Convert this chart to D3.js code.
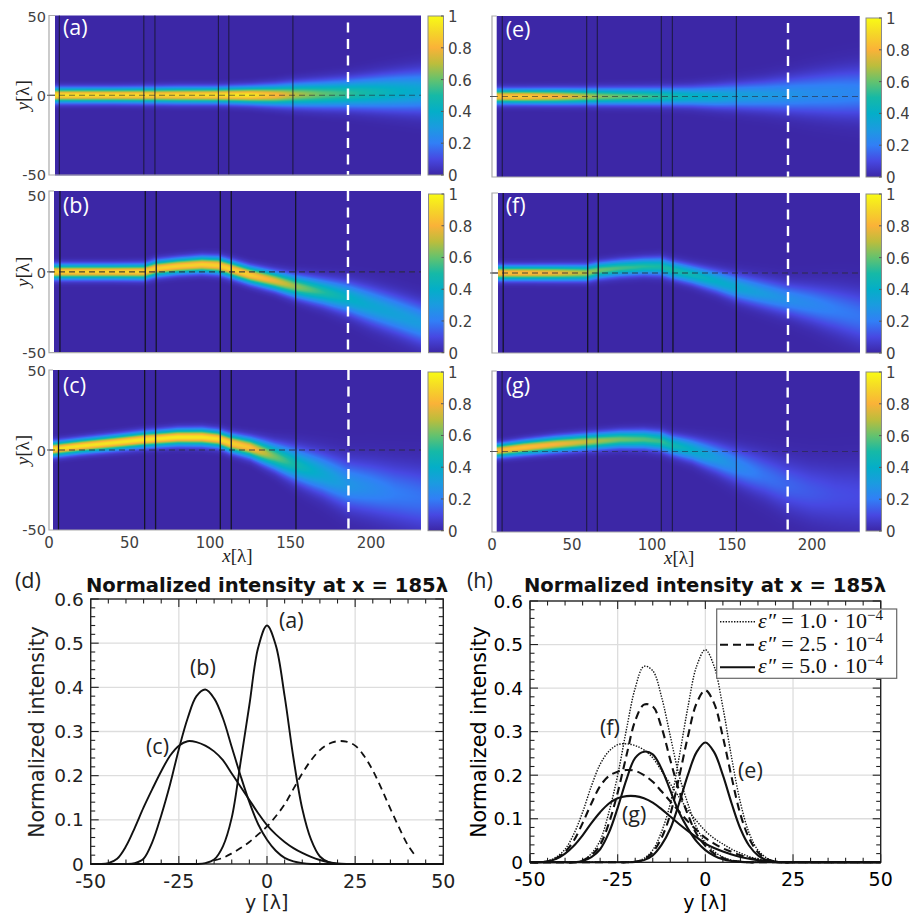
<!DOCTYPE html>
<html>
<head>
<meta charset="utf-8">
<script src="https://cdnjs.cloudflare.com/ajax/libs/d3/7.8.5/d3.min.js"></script>
<style>
html, body { margin: 0; padding: 0; background: #fff; }
svg { display: block; }
</style>
</head>
<body>
<script>
// global variables
var svg_w = 909;
var svg_h = 919;
var sans = "'DejaVu Sans', sans-serif";
var serif = "'Liberation Serif', serif";
var label_font = "'Open Sans', sans-serif";

// colour map
var cmap_levels = [0, .1, .2, .3, .4, .5, .6, .7, .8, .9, 1];
var cmap_colors = ["#3c27a6", "#4748e2", "#317ff6", "#1b9be0", "#04aec8", "#16b9a6", "#64c26e", "#bcbd3c", "#fab238", "#f5d628", "#f9fb15"];

// x stations (in lambda) where the beam was read in each map
var stations = [3, 20, 40, 59, 66, 80, 95, 105, 112, 125, 140, 153, 170, 185, 200, 215, 232];

// beam centre, peak and width at the stations
var center_a = [0, 0, 0, 0, 0, 0, 0, 0, 0, 0, 0, .3, .6, 1, 1.5, 2, 2.5];
var peak_a = [.94, .94, .93, .92, .91, .92, .93, .94, .95, .96, .84, .7, .6, .54, .48, .42, .36];
var width_a = [2.8, 2.8, 2.8, 2.9, 2.9, 3, 3, 3, 3.1, 3.3, 3.8, 4.4, 5, 5.5, 6.3, 7.2, 8.2];

var center_b = [0, 0, 0, 0, 2, 3.5, 4.5, 4, 2, -2, -5.5, -9, -12.5, -16, -21, -26, -32];
var peak_b = [.9, .9, .9, .9, .89, .89, .89, .89, .9, .88, .78, .66, .52, .42, .36, .33, .3];
var width_b = [2.8, 2.8, 2.8, 2.9, 3, 3, 3.1, 3.2, 3.2, 3.3, 3.6, 4.2, 5, 6, 7, 7.5, 8];

var center_c = [.5, 2.5, 4.5, 6.5, 7, 8, 8, 7, 4.5, 1.5, -4, -9, -15, -21.5, -24, -27, -30];
var peak_c = [.94, .94, .94, .95, .95, .96, .95, .93, .9, .85, .62, .48, .36, .28, .24, .2, .18];
var width_c = [2.8, 2.8, 2.9, 3, 3, 3.1, 3.2, 3.2, 3.4, 3.8, 5, 6.5, 8, 9.5, 10.5, 11.5, 12.5];

var center_e = [0, 0, 0, 0, 0, 0, 0, 0, 0, 0, 0, .3, .6, 1, 1.5, 2, 2.5];
var peak_e = [.85, .88, .82, .7, .65, .6, .56, .52, .48, .42, .38, .33, .3, .275, .25, .24, .22];
var width_e = [2.8, 2.8, 2.9, 3, 3.1, 3.2, 3.3, 3.4, 3.5, 3.8, 4.4, 5, 5.8, 6.8, 8, 9, 10];

var center_f = [0, 0, 0, 0, 1.5, 3, 4, 4, 2, -1, -5, -9, -13, -16.5, -19.5, -23, -27.5];
var peak_f = [.85, .85, .8, .7, .62, .56, .52, .5, .5, .46, .4, .36, .3, .255, .23, .2, .18];
var width_f = [2.8, 2.8, 2.9, 3, 3.1, 3.2, 3.3, 3.5, 3.5, 3.7, 4.3, 5, 5.7, 6.3, 7.5, 9, 10.5];

var center_g = [.5, 2.5, 4.5, 6, 6.5, 7.5, 7.5, 6.5, 4, 1, -4, -9, -15, -21, -25, -27, -28];
var peak_g = [.85, .85, .8, .72, .68, .62, .58, .55, .48, .4, .3, .24, .18, .152, .13, .11, .1];
var width_g = [2.6, 2.8, 3, 3.1, 3.2, 3.3, 3.5, 3.7, 3.9, 4.5, 5.8, 7, 8.5, 10, 11, 12, 13];

// cross section of the beam: distance from centre (in widths) and relative intensity
var profile_d = [0, .25, .5, .75, 1, 1.25, 1.5, 1.75, 2, 2.25, 2.5, 3, 3.5];
var profile_i = [1, .97, .88, .755, .607, .458, .325, .216, .135, .08, .044, .011, 0];

// black vertical lines and white dashed cut, in lambda, per map
var walls_a = [6.4, 58.9, 65.8, 105.2, 111.7, 151.5];
var walls_b = [6.8, 59.8, 66.6, 106.4, 113.2, 153.2];
var walls_c = [5.9, 59.4, 66.2, 106.4, 113.2, 153.4];
var walls_e = [6.4, 59.2, 65.8, 105.8, 112.7, 152.7];
var walls_f = [7, 59.8, 66.4, 106.4, 113.1, 152.7];
var walls_g = [6.3, 59.2, 65.8, 105.8, 112.7, 152.7];
var cuts = { a: 185.7, b: 185.7, c: 186, e: 185, f: 185, g: 184.8 };

var map_ticks_x = [0, 50, 100, 150, 200];
var map_ticks_y = [-50, 0, 50];
var bar_ticks = [0, .2, .4, .6, .8, 1];

// profiles at x = 185 lambda, one value per entry of y_grid
var y_grid = [-50, -47.5, -45, -42.5, -40, -37.5, -35, -32.5, -30, -27.5, -25, -22.5, -20, -17.5, -15, -12.5, -10, -7.5, -5, -2.5, 0,
	2.5, 5, 7.5, 10, 12.5, 15, 17.5, 20, 22.5, 25, 27.5, 30, 32.5, 35, 37.5, 40, 42.5, 45, 47.5, 50];

var curve_a = [0, 0, 0, 0, 0, 0, 0, 0, 0, 0, 0, 0, 0, .002, .01, .04, .105, .23, .36, .49, .54,
	.495, .38, .24, .125, .055, .017, .004, 0, 0, 0, 0, 0, 0, 0, 0, 0, 0, 0, 0, 0];
var curve_b = [0, 0, 0, 0, 0, .002, .012, .05, .11, .18, .26, .33, .38, .395, .375, .33, .265, .2, .14, .09, .055,
	.03, .014, .006, .002, 0, 0, 0, 0, 0, 0, 0, 0, 0, 0, 0, 0, 0, 0, 0, 0];
var curve_c = [0, 0, .002, .012, .04, .082, .128, .17, .21, .245, .268, .278, .276, .268, .255, .235, .205, .175, .145, .115, .088,
	.067, .05, .036, .025, .016, .009, .004, .001, 0, 0, 0, 0, 0, 0, 0, 0, 0, 0, 0, 0];
var curve_mirror = [null, null, null, null, null, null, null, null, null, null, null, null, null, null, .008, .014, .024, .036, .05, .067, .085,
	.108, .135, .17, .205, .235, .258, .272, .278, .277, .268, .245, .212, .17, .125, .082, .042, .014, null, null, null];

var curve_e1 = [0, 0, 0, 0, 0, 0, 0, 0, 0, 0, 0, 0, .001, .009, .028, .07, .135, .24, .355, .45, .488,
	.45, .356, .24, .137, .067, .028, .01, .002, 0, 0, 0, 0, 0, 0, 0, 0, 0, 0, 0, 0];
var curve_e2 = [0, 0, 0, 0, 0, 0, 0, 0, 0, 0, 0, 0, .001, .007, .023, .056, .11, .195, .288, .365, .395,
	.365, .288, .195, .11, .055, .023, .008, .002, 0, 0, 0, 0, 0, 0, 0, 0, 0, 0, 0, 0];
var curve_e3 = [0, 0, 0, 0, 0, 0, 0, 0, 0, 0, 0, 0, .001, .005, .016, .04, .077, .135, .2, .253, .275,
	.253, .2, .135, .077, .038, .016, .005, .001, 0, 0, 0, 0, 0, 0, 0, 0, 0, 0, 0, 0];

var curve_f1 = [0, 0, 0, 0, 0, 0, .004, .02, .05, .115, .2, .305, .4, .45, .44, .38, .29, .2, .135, .08, .045,
	.025, .012, .005, .002, 0, 0, 0, 0, 0, 0, 0, 0, 0, 0, 0, 0, 0, 0, 0, 0];
var curve_f2 = [0, 0, 0, 0, 0, 0, .004, .016, .04, .09, .16, .245, .325, .362, .358, .31, .235, .165, .11, .065, .038,
	.02, .01, .004, .001, 0, 0, 0, 0, 0, 0, 0, 0, 0, 0, 0, 0, 0, 0, 0, 0];
var curve_f3 = [0, 0, 0, 0, 0, 0, .003, .012, .03, .068, .125, .19, .24, .254, .248, .215, .165, .115, .078, .048, .028,
	.015, .007, .003, .001, 0, 0, 0, 0, 0, 0, 0, 0, 0, 0, 0, 0, 0, 0, 0, 0];

var curve_g1 = [0, 0, .003, .012, .03, .065, .115, .175, .225, .255, .27, .272, .268, .258, .24, .21, .18, .15, .12, .095, .072,
	.055, .042, .03, .021, .013, .008, .004, .001, 0, 0, 0, 0, 0, 0, 0, 0, 0, 0, 0, 0];
var curve_g2 = [0, 0, .002, .009, .024, .05, .09, .135, .175, .198, .208, .212, .21, .2, .185, .163, .14, .117, .094, .074, .056,
	.043, .032, .024, .016, .01, .006, .003, .001, 0, 0, 0, 0, 0, 0, 0, 0, 0, 0, 0, 0];
var curve_g3 = [0, 0, .002, .008, .02, .038, .062, .09, .115, .135, .147, .152, .152, .147, .137, .122, .105, .088, .072, .057, .043,
	.033, .025, .018, .012, .008, .005, .002, .001, 0, 0, 0, 0, 0, 0, 0, 0, 0, 0, 0, 0];

var major_x = [-50, -25, 0, 25, 50];
var major_y = [0, .1, .2, .3, .4, .5, .6];
var minor_x = [-45, -40, -35, -30, -20, -15, -10, -5, 5, 10, 15, 20, 30, 35, 40, 45];
var minor_y = [.02, .04, .06, .08, .12, .14, .16, .18, .22, .24, .26, .28, .32, .34, .36, .38, .42, .44, .46, .48, .52, .54, .56, .58];

var legend_names = ["1.0", "2.5", "5.0"];

// where each map sits on the page
var maps = [
	{ id: "a", center: center_a, peak: peak_a, width: width_a, walls: walls_a, x0: 49, x1: 421, img: 55, top: 15.5, bottom: 175, barTop: 16, barBottom: 175, barX: 428, side: "left", labelX: 63, labelY: 35, capShift: 0 },
	{ id: "b", center: center_b, peak: peak_b, width: width_b, walls: walls_b, x0: 49, x1: 421, img: 54, top: 191, bottom: 352.7, barTop: 194, barBottom: 352.7, barX: 428.5, side: "left", labelX: 63, labelY: 213, capShift: 4, dark: true },
	{ id: "c", center: center_c, peak: peak_c, width: width_c, walls: walls_c, x0: 49, x1: 421, img: 53, top: 370, bottom: 530, barTop: 372, barBottom: 530.7, barX: 428, side: "left", labelX: 63, labelY: 393, showX: true, capShift: 0, dark: true },
	{ id: "e", center: center_e, peak: peak_e, width: width_e, walls: walls_e, x0: 492, x1: 860, img: 496.7, top: 16, bottom: 177, barTop: 18, barBottom: 177, barX: 866, side: "right", labelX: 505.7, labelY: 37 },
	{ id: "f", center: center_f, peak: peak_f, width: width_f, walls: walls_f, x0: 492, x1: 860, img: 498, top: 193, bottom: 353, barTop: 194, barBottom: 353, barX: 866, side: "right", labelX: 505.7, labelY: 213, dark: true },
	{ id: "g", center: center_g, peak: peak_g, width: width_g, walls: walls_g, x0: 492, x1: 860, img: 496.7, top: 371, bottom: 532, barTop: 372, barBottom: 531, barX: 866, side: "right", labelX: 505.7, labelY: 393, showX: true }
];

var svg = d3.select("body").append("svg")
	.attr("width", svg_w)
	.attr("height", svg_h);

var color_scale = d3.scaleLinear()
	.domain(cmap_levels)
	.range(cmap_colors)
	.clamp(true);

var profile_scale = d3.scaleLinear()
	.domain(profile_d)
	.range(profile_i)
	.clamp(true);

// colour bar gradient
var grad = svg.append("defs").append("linearGradient")
	.attr("id", "bar_grad")
	.attr("x1", 0).attr("y1", 1)
	.attr("x2", 0).attr("y2", 0);
grad.selectAll("stop")
	.data(cmap_levels)
	.enter()
	.append("stop")
	.attr("offset", function(d) { return d; })
	.attr("stop-color", function(d) { return color_scale(d); });

// the loop that makes the six maps
maps.forEach(function(m) {
	var g = svg.append("g");
	var sx = d3.scaleLinear().domain([0, 230]).range([m.x0, m.x0 + 230 * (m.side == "left" ? 1.61 : 1.6)]);
	var sy = d3.scaleLinear().domain([-50, 50]).range([m.bottom, m.top]);

	var center_at = d3.scaleLinear().domain(stations).range(m.center);
	var peak_at = d3.scaleLinear().domain(stations).range(m.peak);
	var width_at = d3.scaleLinear().domain(stations).range(m.width);

	// paint the field on a small canvas, one pixel per screen pixel
	var w = Math.round(m.x1 - m.img);
	var h = Math.round(m.bottom - m.top);
	var canvas = document.createElement("canvas");
	canvas.width = w;
	canvas.height = h;
	var ctx = canvas.getContext("2d");
	var image = ctx.createImageData(w, h);
	for (var i = 0; i < w; i++) {
		var lam = sx.invert(m.img + i + .5);
		var c = center_at(lam), p = peak_at(lam), s = width_at(lam);
		for (var j = 0; j < h; j++) {
			var yy = sy.invert(m.top + j + .5);
			var col = d3.rgb(color_scale(p * profile_scale(Math.abs(yy - c) / s)));
			var k = (j * w + i) * 4;
			image.data[k] = col.r;
			image.data[k + 1] = col.g;
			image.data[k + 2] = col.b;
			image.data[k + 3] = 255;
		}
	}
	ctx.putImageData(image, 0, 0);

	g.append("image")
		.attr("x", m.img)
		.attr("y", m.top)
		.attr("width", w)
		.attr("height", h)
		.attr("href", canvas.toDataURL());

	// zero line
	g.append("line")
		.attr("x1", m.x0).attr("x2", m.x1)
		.attr("y1", sy(0)).attr("y2", sy(0))
		.attr("stroke", "#2a2a3a")
		.attr("stroke-opacity", m.dark ? .85 : .6)
		.attr("stroke-width", m.dark ? 1.2 : 1)
		.attr("stroke-dasharray", "6,4");

	// walls
	g.selectAll(".wall")
		.data(m.walls)
		.enter()
		.append("line")
		.attr("class", "wall")
		.attr("x1", function(d) { return sx(d); })
		.attr("x2", function(d) { return sx(d); })
		.attr("y1", m.top)
		.attr("y2", m.bottom)
		.attr("stroke", "#15152a")
		.attr("stroke-opacity", m.dark ? 1 : .85)
		.attr("stroke-width", m.dark ? 1.3 : 1);

	// white cut
	g.append("line")
		.attr("x1", sx(cuts[m.id])).attr("x2", sx(cuts[m.id]))
		.attr("y1", m.id == "a" || m.id == "e" ? m.top + 7 : m.top)
		.attr("y2", m.bottom)
		.attr("stroke", "#fff")
		.attr("stroke-width", 2.4)
		.attr("stroke-dasharray", "10,6.5");

	// frame (grey, left strip stays white)
	g.append("path")
		.attr("d", "M" + m.img + "," + m.top + "H" + m.x0 + "V" + m.bottom + "H" + m.x1)
		.attr("fill", "none")
		.attr("stroke", "#aaa")
		.attr("stroke-width", 1.2);
	g.append("line")
		.attr("x1", m.x0 - 2).attr("x2", m.img)
		.attr("y1", sy(0)).attr("y2", sy(0))
		.attr("stroke", "#555")
		.attr("stroke-width", 1);

	if (m.side == "left") {
		g.selectAll(".ytick")
			.data(map_ticks_y)
			.enter()
			.append("text")
			.attr("x", m.x0 - 3)
			.attr("y", function(d) { return sy(d) + 6 + (d == 50 ? m.capShift : (d == -50 ? -1 : 0)); })
			.attr("text-anchor", "end")
			.attr("font-family", sans)
			.attr("font-size", 14.5)
			.attr("fill", "#404040")
			.text(function(d) { return d; });
		var ylab = g.append("text")
			.attr("transform", "translate(29," + sy(0) + ") rotate(-90)")
			.attr("text-anchor", "middle")
			.attr("font-family", serif)
			.attr("font-size", 19)
			.attr("fill", "#222");
		ylab.append("tspan").attr("font-style", "italic").text("y");
		ylab.append("tspan").text("[λ]");
	}

	if (m.showX) {
		g.selectAll(".xtick")
			.data(map_ticks_x)
			.enter()
			.append("text")
			.attr("x", function(d) { return sx(d); })
			.attr("y", m.bottom + 18)
			.attr("text-anchor", "middle")
			.attr("font-family", sans)
			.attr("font-size", 15)
			.attr("fill", "#404040")
			.text(function(d) { return d; });
		var xlab = g.append("text")
			.attr("x", sx(117))
			.attr("y", m.bottom + 32)
			.attr("text-anchor", "middle")
			.attr("font-family", serif)
			.attr("font-size", 19)
			.attr("fill", "#222");
		xlab.append("tspan").attr("font-style", "italic").text("x");
		xlab.append("tspan").text("[λ]");
	}

	g.append("text")
		.attr("x", m.labelX)
		.attr("y", m.labelY)
		.attr("font-family", label_font)
		.attr("font-size", 21.5)
		.attr("fill", "#fff")
		.text("(" + m.id + ")");

	// colour bar
	var sbar = d3.scaleLinear().domain([0, 1]).range([m.barBottom, m.barTop]);
	g.append("rect")
		.attr("x", m.barX)
		.attr("y", m.barTop)
		.attr("width", 15.5)
		.attr("height", m.barBottom - m.barTop)
		.attr("fill", "url(#bar_grad)")
		.attr("stroke", "#8a8a8a")
		.attr("stroke-width", 1);
	g.selectAll(".bartick")
		.data(bar_ticks)
		.enter()
		.append("line")
		.attr("x1", m.barX + 13)
		.attr("x2", m.barX + 15.5)
		.attr("y1", function(d) { return sbar(d); })
		.attr("y2", function(d) { return sbar(d); })
		.attr("stroke", "#555");
	g.selectAll(".barlabel")
		.data(bar_ticks)
		.enter()
		.append("text")
		.attr("x", m.barX + 20)
		.attr("y", function(d) { return sbar(d) + 6; })
		.attr("font-family", sans)
		.attr("font-size", 15)
		.attr("fill", "#404040")
		.text(function(d) { return d; });
});

// line plots
var plots = [
	{ x0: 90.7, x1: 443.3, top: 599, bottom: 864, tick_fill: "#222", label_x: 44, title_x: 267,
		tag: "(d)", tag_x: 15, x_label: 266.7,
		series: [
			{ v: curve_a, dash: null, w: 1.9 },
			{ v: curve_b, dash: null, w: 1.9 },
			{ v: curve_c, dash: null, w: 1.9 },
			{ v: curve_mirror, dash: "7,5", w: 1.8 }
		],
		notes: [["(a)", 279, 628], ["(b)", 190, 675], ["(c)", 146, 754]] },
	{ x0: 530, x1: 880.7, top: 601, bottom: 862.3, tick_fill: "#000", label_x: 486, title_x: 705,
		tag: "(h)", tag_x: 467, x_label: 705,
		series: [
			{ v: curve_e1, dash: "1.4,1.4", w: 1.4 },
			{ v: curve_f1, dash: "1.4,1.4", w: 1.4 },
			{ v: curve_g1, dash: "1.4,1.4", w: 1.4 },
			{ v: curve_e2, dash: "8,5", w: 2.1 },
			{ v: curve_f2, dash: "8,5", w: 2.1 },
			{ v: curve_g2, dash: "8,5", w: 2.1 },
			{ v: curve_e3, dash: null, w: 2.1 },
			{ v: curve_f3, dash: null, w: 2.1 },
			{ v: curve_g3, dash: null, w: 2.1 }
		],
		notes: [["(f)", 600, 735], ["(e)", 738, 778], ["(g)", 622, 822]] }
];

plots.forEach(function(p) {
	var g = svg.append("g");
	var sx = d3.scaleLinear().domain([-50, 50]).range([p.x0, p.x1]);
	var sy = d3.scaleLinear().domain([0, .6]).range([p.bottom, p.top]);

	// grid
	g.selectAll(".gx")
		.data(major_x.slice(1, 4))
		.enter()
		.append("line")
		.attr("x1", function(d) { return sx(d); })
		.attr("x2", function(d) { return sx(d); })
		.attr("y1", p.top).attr("y2", p.bottom)
		.attr("stroke", "#ddd")
		.attr("stroke-width", 1.3);
	g.selectAll(".gy")
		.data(major_y.slice(1, 6))
		.enter()
		.append("line")
		.attr("x1", p.x0).attr("x2", p.x1)
		.attr("y1", function(d) { return sy(d); })
		.attr("y2", function(d) { return sy(d); })
		.attr("stroke", "#ddd")
		.attr("stroke-width", 1.3);

	// ticks on all four sides
	function ticks_x(data, len) {
		[[p.bottom, -len], [p.top, len]].forEach(function(e) {
			g.selectAll(null)
				.data(data)
				.enter()
				.append("line")
				.attr("x1", function(d) { return sx(d); })
				.attr("x2", function(d) { return sx(d); })
				.attr("y1", e[0])
				.attr("y2", e[0] + e[1])
				.attr("stroke", "#222")
				.attr("stroke-width", 1.1);
		});
	}
	function ticks_y(data, len) {
		[[p.x0, len], [p.x1, -len]].forEach(function(e) {
			g.selectAll(null)
				.data(data)
				.enter()
				.append("line")
				.attr("y1", function(d) { return sy(d); })
				.attr("y2", function(d) { return sy(d); })
				.attr("x1", e[0])
				.attr("x2", e[0] + e[1])
				.attr("stroke", "#222")
				.attr("stroke-width", 1.1);
		});
	}
	ticks_x(major_x, 8);
	ticks_x(minor_x, 4.5);
	ticks_y(major_y, 8);
	ticks_y(minor_y, 4.5);

	g.append("rect")
		.attr("x", p.x0).attr("y", p.top)
		.attr("width", p.x1 - p.x0)
		.attr("height", p.bottom - p.top)
		.attr("fill", "none")
		.attr("stroke", "#222")
		.attr("stroke-width", 1.4);

	// curves
	var line = d3.line()
		.defined(function(d) { return d[1] !== null; })
		.x(function(d) { return sx(d[0]); })
		.y(function(d) { return sy(d[1]); })
		.curve(d3.curveCatmullRom.alpha(.5));

	g.selectAll(".curve")
		.data(p.series)
		.enter()
		.append("path")
		.attr("d", function(s) { return line(d3.zip(y_grid, s.v)); })
		.attr("fill", "none")
		.attr("stroke", "#111")
		.attr("stroke-width", function(s) { return s.w; })
		.attr("stroke-dasharray", function(s) { return s.dash; });

	// tick labels
	g.selectAll(".lx")
		.data(major_x)
		.enter()
		.append("text")
		.attr("x", function(d) { return sx(d); })
		.attr("y", p.bottom + 23.5)
		.attr("text-anchor", "middle")
		.attr("font-family", sans)
		.attr("font-size", 19)
		.attr("fill", p.tick_fill)
		.text(function(d) { return d; });
	g.selectAll(".ly")
		.data(major_y)
		.enter()
		.append("text")
		.attr("x", p.x0 - 7)
		.attr("y", function(d) { return sy(d) + 6.5; })
		.attr("text-anchor", "end")
		.attr("font-family", sans)
		.attr("font-size", 18.5)
		.attr("fill", p.tick_fill)
		.text(function(d) { return d; });

	// axis labels and title
	g.append("text")
		.attr("transform", "translate(" + p.label_x + ",732) rotate(-90)")
		.attr("text-anchor", "middle")
		.attr("font-family", sans)
		.attr("font-size", 20.5)
		.attr("fill", p.tick_fill)
		.text("Normalized intensity");
	g.append("text")
		.attr("x", p.x_label)
		.attr("y", 909)
		.attr("text-anchor", "middle")
		.attr("font-family", sans)
		.attr("font-size", 19)
		.attr("fill", p.tick_fill)
		.text("y [λ]");

	g.append("text")
		.attr("x", p.title_x)
		.attr("y", 591.5)
		.attr("text-anchor", "middle")
		.attr("font-family", sans)
		.attr("font-size", 19.6)
		.attr("font-weight", "bold")
		.attr("fill", "#111")
		.text("Normalized intensity at x = 185λ");

	g.append("text")
		.attr("x", p.tag_x)
		.attr("y", 588)
		.attr("font-family", label_font)
		.attr("font-size", 21.5)
		.attr("fill", "#222")
		.text(p.tag);

	g.selectAll(".note")
		.data(p.notes)
		.enter()
		.append("text")
		.attr("x", function(d) { return d[1]; })
		.attr("y", function(d) { return d[2]; })
		.attr("font-family", label_font)
		.attr("font-size", 21.5)
		.attr("fill", "#222")
		.text(function(d) { return d[0]; });
});

// legend of panel (h)
var leg = svg.append("g");
leg.append("rect")
	.attr("x", 716.7).attr("y", 609)
	.attr("width", 180).attr("height", 69.3)
	.attr("fill", "#fff")
	.attr("stroke", "#666")
	.attr("stroke-width", 1.2);

var leg_dash = ["1.4,1.4", "8,5", null];
var leg_w = [1.5, 2, 2];
var leg_base = [627.7, 650.7, 673.3];

legend_names.forEach(function(name, i) {
	leg.append("line")
		.attr("x1", 720).attr("x2", 755)
		.attr("y1", leg_base[i] - 6).attr("y2", leg_base[i] - 6)
		.attr("stroke", "#111")
		.attr("stroke-width", leg_w[i])
		.attr("stroke-dasharray", leg_dash[i]);
	var t = leg.append("text")
		.attr("x", 758)
		.attr("y", leg_base[i])
		.attr("font-family", serif)
		.attr("font-size", 22)
		.attr("fill", "#111");
	t.append("tspan").attr("font-style", "italic").text("ε″");
	t.append("tspan").text(" = " + name + " · 10");
	t.append("tspan").attr("dy", -8).attr("font-size", 15).text("−4");
});
</script>
</body>
</html>
